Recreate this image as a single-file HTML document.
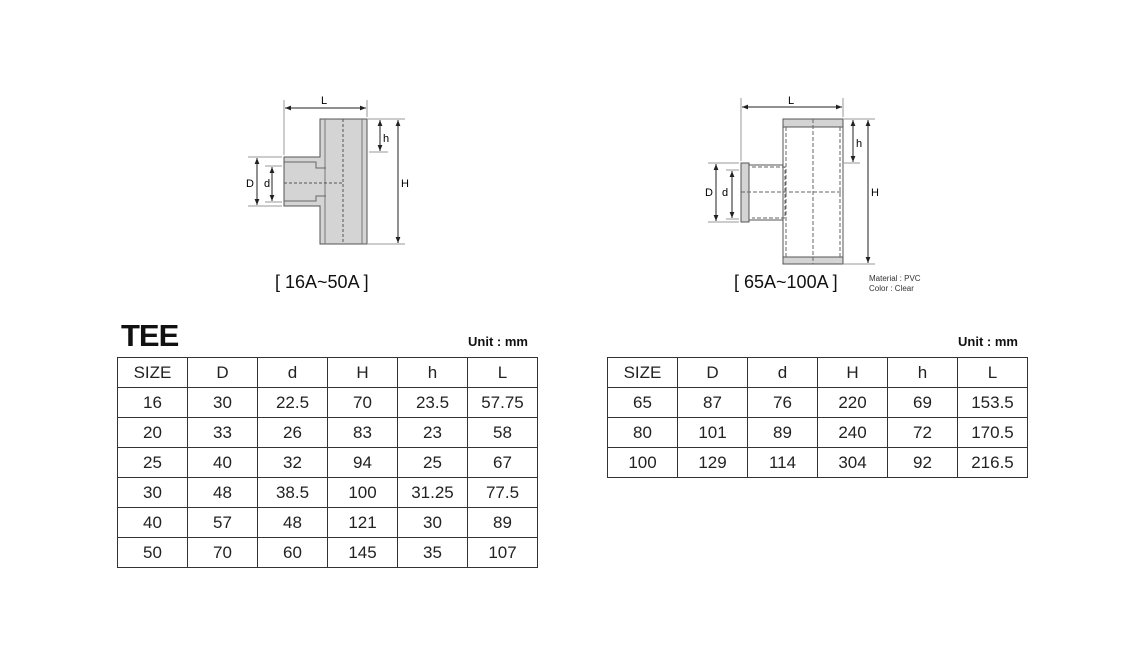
<!DOCTYPE html><html><head><meta charset="utf-8"><style>
body{margin:0;width:1145px;height:663px;background:#fff;font-family:"Liberation Sans",sans-serif;position:relative;overflow:hidden}
table{position:absolute;border-collapse:collapse}
td{border:1px solid #333;width:69px;height:29px;text-align:center;font-size:17px;color:#222;padding:0;line-height:29px}
.t{position:absolute;color:#111}
</style></head><body>
<svg width="1145" height="663" style="position:absolute;left:0;top:0" font-family="Liberation Sans" font-size="11">
<defs><marker id="a" viewBox="0 0 10 10" refX="10" refY="5" markerWidth="6" markerHeight="6" orient="auto-start-reverse"><path d="M0,1 L10,5 L0,9z" fill="#222"/></marker></defs>
<!-- left -->
<g stroke="#555" stroke-width="1">
<path d="M320,119 H367 V244 H320 V206 H284 V157 H320 Z" fill="#d4d4d4"/>
<path d="M325,119 V244 M362,119 V244" fill="none" stroke="#777"/>
<path d="M284,183 H343 M343,119 V244" stroke-dasharray="3,2" fill="none"/>
<path d="M284,162 H316 V168 H326 M284,201 H316 V196 H326" fill="none" stroke="#666"/>
</g>
<g stroke="#999" stroke-width="1" fill="none">
<path d="M284,100 V155 M367,100 V117 M369,152 H388 M367,119 H405 M367,244 H405 M248,157 H282 M248,206 H282 M265,166 H282 M265,202 H282"/>
</g>
<g stroke="#222" stroke-width="1" marker-start="url(#a)" marker-end="url(#a)">
<line x1="285" y1="108" x2="366" y2="108"/><line x1="380" y1="120" x2="380" y2="151"/><line x1="398" y1="120" x2="398" y2="243"/>
<line x1="257" y1="158" x2="257" y2="205"/><line x1="272" y1="167" x2="272" y2="201"/>
</g>
<text x="321" y="104">L</text><text x="383" y="142">h</text><text x="401" y="187">H</text><text x="246" y="187">D</text><text x="264" y="187">d</text>
<!-- right -->
<g stroke="#555" stroke-width="1">
<rect x="783" y="119" width="60" height="145" fill="#fff"/>
<rect x="783" y="119" width="60" height="8" fill="#d4d4d4"/>
<rect x="783" y="257" width="60" height="7" fill="#d4d4d4"/>
<rect x="741" y="163" width="8" height="59" fill="#d4d4d4"/>
<path d="M749,165 H783 M749,220 H783" fill="none"/>
<path d="M786,127 V257 M840,127 V257 M813,119 V264 M741,192 H843 M752,167 H785 V218 H752" stroke-dasharray="4,2" fill="none" stroke="#666"/>
</g>
<g stroke="#999" fill="none"><path d="M741,98 V161 M843,98 V117 M843,163 H860 M843,119 H875 M843,264 H875 M708,163 H739 M708,222 H739 M726,170 H739 M726,219 H739"/></g>
<g stroke="#222" marker-start="url(#a)" marker-end="url(#a)">
<line x1="742" y1="107" x2="842" y2="107"/><line x1="853" y1="120" x2="853" y2="162"/><line x1="868" y1="120" x2="868" y2="263"/>
<line x1="716" y1="164" x2="716" y2="221"/><line x1="732" y1="171" x2="732" y2="218"/>
</g>
<text x="788" y="104">L</text><text x="856" y="147">h</text><text x="871" y="196">H</text><text x="705" y="196">D</text><text x="722" y="196">d</text>
<text x="869" y="281" font-size="8" fill="#333">Material  : PVC</text><text x="869" y="291" font-size="8" fill="#333">Color       : Clear</text>
</svg>
<div class="t" style="left:275px;top:272px;font-size:18px">[ 16A~50A ]</div>
<div class="t" style="left:734px;top:272px;font-size:18px">[ 65A~100A ]</div>
<div class="t" style="left:121px;top:318px;font-size:31px;font-weight:bold;letter-spacing:-1px">TEE</div>
<div class="t" style="left:468px;top:334px;font-size:13px;font-weight:bold">Unit : mm</div>
<div class="t" style="left:958px;top:334px;font-size:13px;font-weight:bold">Unit : mm</div>
<table style="left:117px;top:357px">
<tr><td>SIZE</td><td>D</td><td>d</td><td>H</td><td>h</td><td>L</td></tr>
<tr><td>16</td><td>30</td><td>22.5</td><td>70</td><td>23.5</td><td>57.75</td></tr>
<tr><td>20</td><td>33</td><td>26</td><td>83</td><td>23</td><td>58</td></tr>
<tr><td>25</td><td>40</td><td>32</td><td>94</td><td>25</td><td>67</td></tr>
<tr><td>30</td><td>48</td><td>38.5</td><td>100</td><td>31.25</td><td>77.5</td></tr>
<tr><td>40</td><td>57</td><td>48</td><td>121</td><td>30</td><td>89</td></tr>
<tr><td>50</td><td>70</td><td>60</td><td>145</td><td>35</td><td>107</td></tr>
</table>
<table style="left:607px;top:357px">
<tr><td>SIZE</td><td>D</td><td>d</td><td>H</td><td>h</td><td>L</td></tr>
<tr><td>65</td><td>87</td><td>76</td><td>220</td><td>69</td><td>153.5</td></tr>
<tr><td>80</td><td>101</td><td>89</td><td>240</td><td>72</td><td>170.5</td></tr>
<tr><td>100</td><td>129</td><td>114</td><td>304</td><td>92</td><td>216.5</td></tr>
</table>
</body></html>
